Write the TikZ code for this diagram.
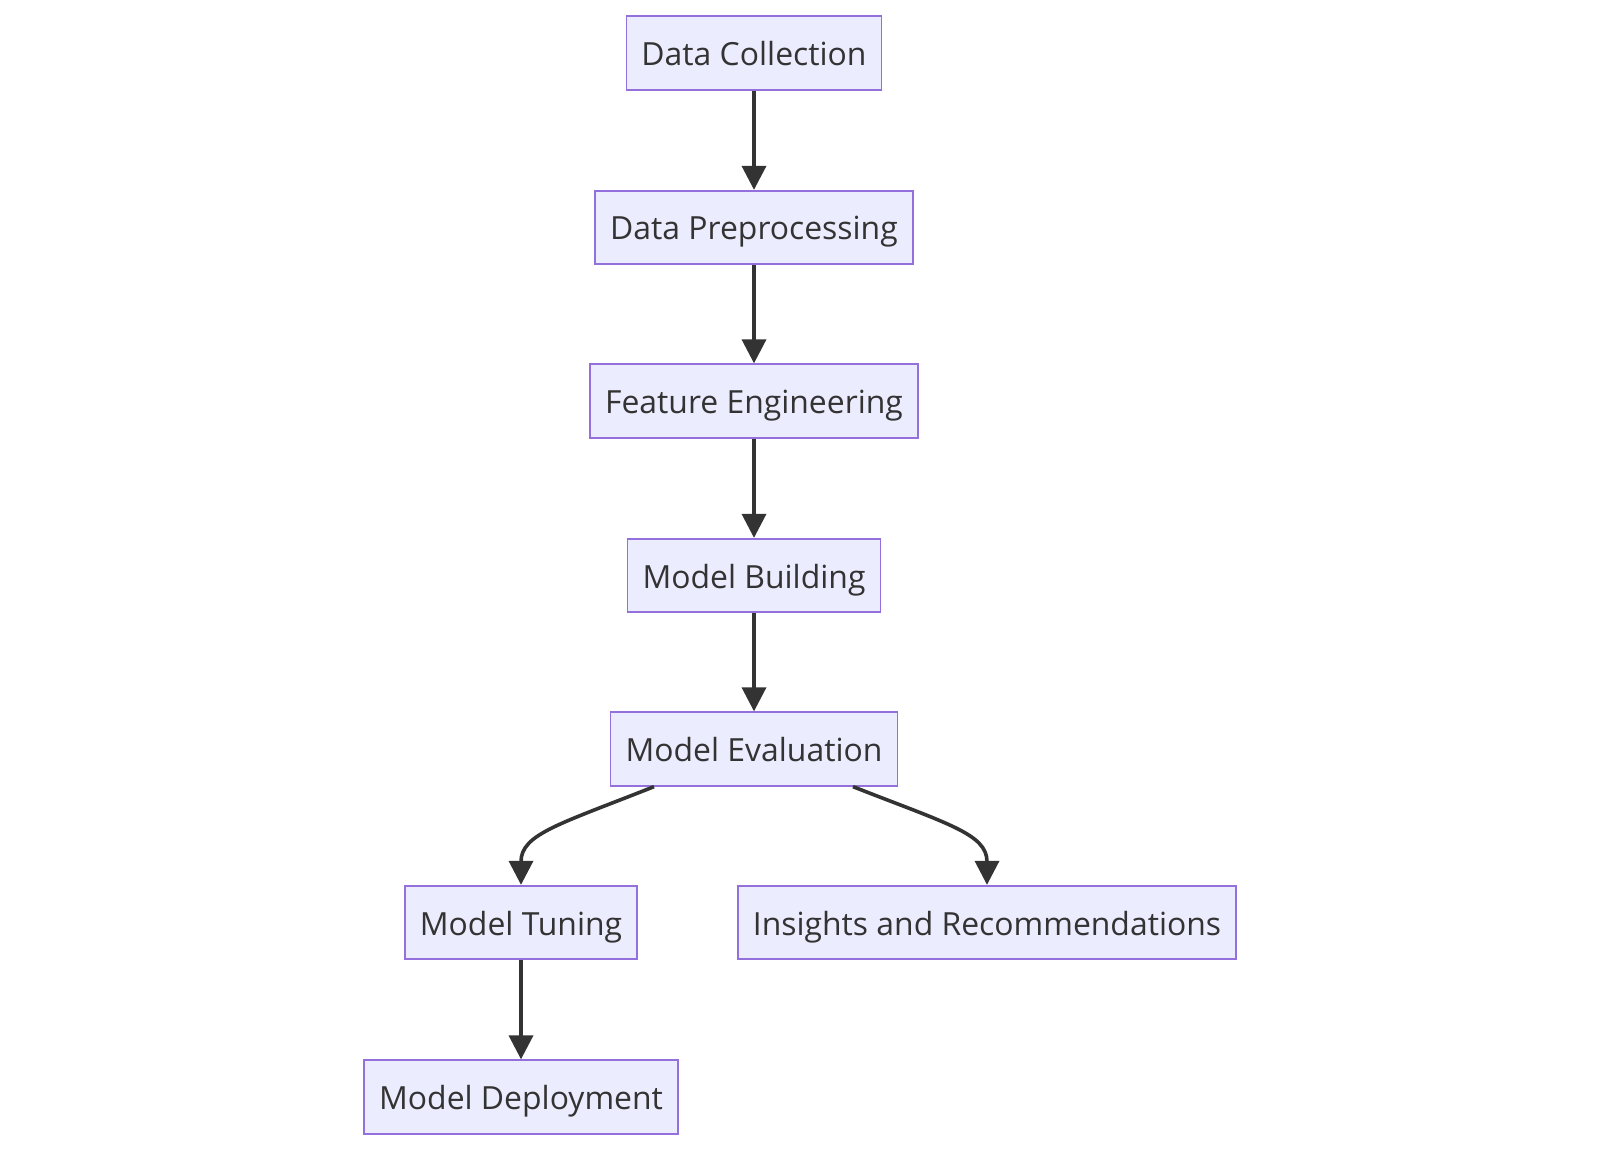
\documentclass[tikz,border=0pt]{standalone}
\usepackage{fontspec}
\setmainfont{Open Sans}
\usepackage{xcolor}
\usetikzlibrary{arrows.meta}
\definecolor{boxfill}{HTML}{ECECFF}
\definecolor{boxline}{HTML}{9370DB}
\definecolor{ink}{HTML}{333333}
\tikzset{
  stage/.style={draw=boxline, fill=boxfill, line width=1.8pt, text=ink,
    font=\fontsize{31.9}{37}\selectfont, minimum height=73.5pt, inner xsep=15pt,
    text height=33pt, text depth=8pt},
  flow/.style={draw=ink, line width=3.6pt, -{Triangle[length=24pt,width=24pt]}}
}
\begin{document}
\begin{tikzpicture}[x=1pt, y=-1pt]
\useasboundingbox (0,0) rectangle (1600,1150);

\node[stage] (collect) at (754, 53) {Data Collection};
\node[stage] (prep) at (754, 227.5) {Data Preprocessing};
\node[stage] (feat) at (754, 401) {Feature Engineering};
\node[stage] (build) at (754, 575.5) {Model Building};
\node[stage] (eval) at (754, 749) {Model Evaluation};
\node[stage] (tune) at (521, 922.5) {Model Tuning};
\node[stage] (insight) at (987, 922.5) {Insights and Recommendations};
\node[stage] (deploy) at (521, 1097) {Model Deployment};

\draw[flow] (collect) -- (prep);
\draw[flow] (prep) -- (feat);
\draw[flow] (feat) -- (build);
\draw[flow] (build) -- (eval);
\draw[flow] ([xshift=-100pt]eval.south) .. controls (560,824) and (521,834) .. (tune.north);
\draw[flow] ([xshift=99pt]eval.south) .. controls (948,824) and (987,834) .. (insight.north);
\draw[flow] (tune) -- (deploy);
\end{tikzpicture}
\end{document}
